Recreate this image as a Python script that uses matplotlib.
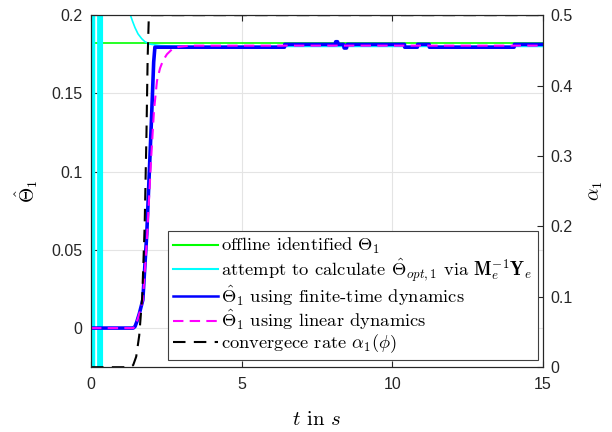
import numpy as np
import matplotlib.pyplot as plt

plt.rcParams['mathtext.fontset'] = 'cm'

# offline identified value
t_off = [0, 15]
theta_off = [0.182, 0.182]

# attempt via M_e^-1 Y_e (spikes near t=0, then decays onto the estimate)
t_cyan = [0.0, 0.015, 0.03, 0.045, 0.06, 0.075, 0.09, 0.105, 0.12, 0.13,
          0.23, 0.245, 0.26, 0.275, 0.29, 0.305, 0.32, 0.335, 0.35, 0.365, 0.38, 0.40,
          1.0, 1.29, 1.38, 1.46, 1.56, 1.68, 1.79, 1.95, 2.3, 3.0, 15.0]
v_cyan = [5, -5, 5, -5, 5, -5, 5, -5, 5, 5,
          5, -5, 5, -5, 5, -5, 5, -5, 5, -5, 5, 5,
          0.5, 0.201, 0.196, 0.192, 0.188, 0.185, 0.183, 0.1815, 0.1805, 0.180, 0.180]

# finite-time estimate
t_ft = [0, 1.40, 1.46, 1.52, 1.60, 1.72, 1.85, 2.00, 2.08, 2.12, 6.42, 6.43, 8.10, 8.12, 8.18, 8.20,
        8.38, 8.40, 8.48, 8.50, 10.40, 10.41, 10.83, 10.84, 11.22, 11.23, 14.04, 14.05, 15]
v_ft = [0, 0, 0.001, 0.004, 0.009, 0.018, 0.060, 0.130, 0.170, 0.1795, 0.1795, 0.1813, 0.1813, 0.1830,
        0.1830, 0.1813, 0.1813, 0.1790, 0.1790, 0.1813, 0.1813, 0.1795, 0.1795, 0.1813, 0.1813,
        0.1795, 0.1795, 0.1813, 0.1813]

# linear estimate
t_lin = [0, 1.40, 1.46, 1.52, 1.60, 1.72, 1.85, 2.00, 2.09, 2.19, 2.29, 2.39, 2.52, 2.68, 2.9, 3.3, 15]
v_lin = [0, 0, 0.001, 0.004, 0.009, 0.018, 0.055, 0.110, 0.139, 0.158, 0.166, 0.171, 0.175, 0.178,
         0.1797, 0.1805, 0.1805]

# convergence rate alpha_1
t_alpha = [0, 1.30, 1.40, 1.50, 1.60, 1.70, 1.78, 1.84, 1.88, 1.92, 15]
v_alpha = [0, 0, 0.003, 0.015, 0.045, 0.10, 0.20, 0.33, 0.44, 0.50, 0.50]

fig = plt.figure(figsize=(6.12, 4.32), dpi=100)
ax = fig.add_axes([0.1487, 0.150, 0.7386, 0.815])
ax2 = ax.twinx()

l1, = ax.plot(t_off, theta_off, color=(0, 1, 0), lw=1.2)
l2, = ax.plot(t_cyan, v_cyan, color=(0, 1, 1), lw=1.2)
l3, = ax.plot(t_ft, v_ft, color=(0, 0, 1), lw=2.6)
l4, = ax.plot(t_lin, v_lin, color=(1, 0, 1), lw=1.5, ls=(0, (5, 3)))
l5, = ax2.plot(t_alpha, v_alpha, color='k', lw=1.5, ls=(0, (6, 4)))

ax.set_xlim(0, 15)
ax.set_ylim(-0.025, 0.2)
ax2.set_ylim(0, 0.5)
ax.set_xticks([0, 5, 10, 15])
ax.set_yticks([0, 0.05, 0.1, 0.15, 0.2])
ax.set_yticklabels(['0', '0.05', '0.1', '0.15', '0.2'])
ax2.set_yticks([0, 0.1, 0.2, 0.3, 0.4, 0.5])
ax2.set_yticklabels(['0', '0.1', '0.2', '0.3', '0.4', '0.5'])

ax.grid(True, color='#e4e4e4', lw=0.8)
ax.set_axisbelow(True)

edge = '#262626'
for a in (ax, ax2):
    for s in a.spines.values():
        s.set_color(edge)
        s.set_linewidth(0.8)
    a.tick_params(direction='in', length=4, width=0.8, colors=edge, labelsize=11.5, pad=6)
    for lab in a.get_xticklabels() + a.get_yticklabels():
        lab.set_fontfamily('Liberation Sans')
ax.tick_params(axis='x', top=True, pad=7)
ax2.tick_params(axis='y', pad=5)

ax.set_xlabel('$t$ in $s$', fontsize=15, family='cmr10', labelpad=14)
ax.set_ylabel(r'$\hat{\Theta}_1$', fontsize=14, labelpad=8)
ax2.set_ylabel(r'$\alpha_1$', fontsize=14, labelpad=10)

labels = [r'offline identified $\Theta_1$',
          r'attempt to calculate $\hat{\Theta}_{opt,1}$ via $\mathbf{M}_e^{-1}\mathbf{Y}_e$',
          r'$\hat{\Theta}_1$ using finite-time dynamics',
          r'$\hat{\Theta}_1$ using linear dynamics',
          r'convergece rate $\alpha_1(\phi)$']
leg = ax2.legend([l1, l2, l3, l4, l5], labels, loc='lower right', bbox_to_anchor=(0.988, 0.02),
                 borderaxespad=0, prop={'family': 'cmr10', 'size': 13.3}, fancybox=False,
                 framealpha=1, edgecolor='#404040', handlelength=2.4, handletextpad=0.2,
                 labelspacing=0.0, borderpad=0.28)
leg.get_frame().set_linewidth(0.8)
for h in leg.get_lines():
    h.set_linewidth(1.5 if h.get_color() != (0, 0, 1) else 1.8)

fig.savefig('out.png', dpi=100)
